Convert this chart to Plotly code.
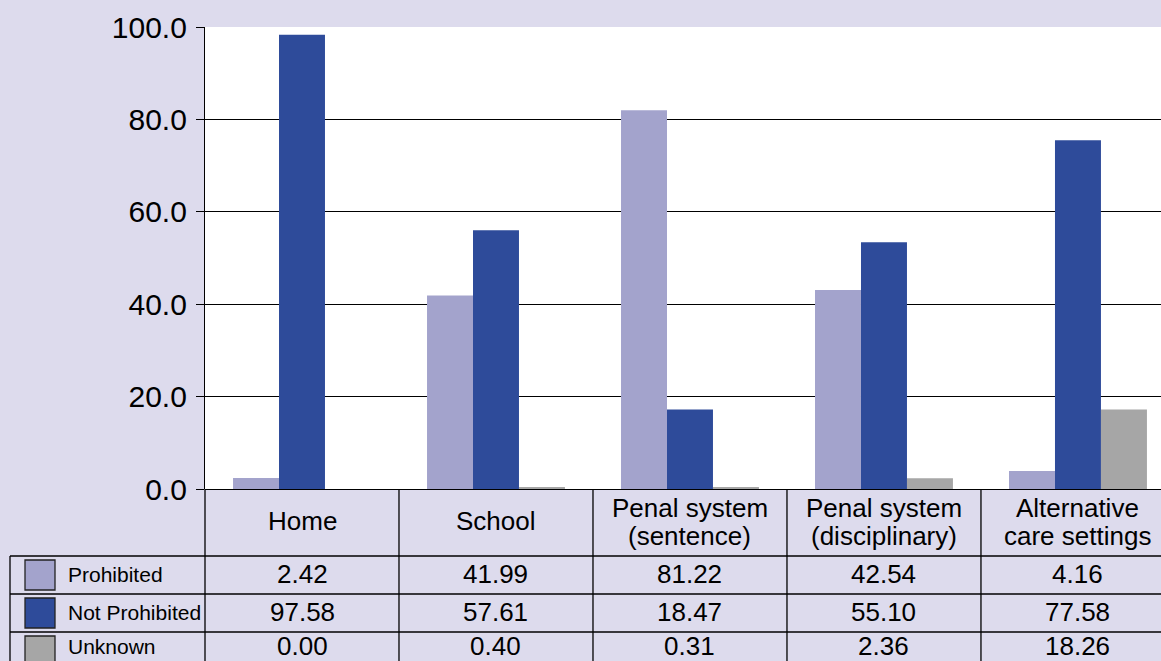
import plotly.graph_objects as go

# ---- data ----
categories = ["Home", "School", "Penal system<br>(sentence)",
              "Penal system<br>(disciplinary)", "Alternative<br>care settings"]
series_names = ["Prohibited", "Not Prohibited", "Unknown"]
# bar heights as drawn in the picture
prohibited_bars = [2.4, 41.9, 82.0, 43.1, 3.9]
not_prohibited_bars = [98.3, 56.0, 17.2, 53.4, 75.5]
unknown_bars = [0.0, 0.4, 0.3, 2.3, 17.2]
# values printed in the data table
prohibited_table = ["2.42", "41.99", "81.22", "42.54", "4.16"]
not_prohibited_table = ["97.58", "57.61", "18.47", "55.10", "77.58"]
unknown_table = ["0.00", "0.40", "0.31", "2.36", "18.26"]
y_ticks = [0, 20, 40, 60, 80, 100]

colors = ["#a3a3cc", "#2e4b9a", "#a6a6a6"]
BG = "#dddbed"
FONT = "Liberation Sans, Arial, sans-serif"

W, H = 1161, 661
ML, MR, MT, MB = 205, 0, 27, 172
PW = W - ML - MR
PH = H - MT - MB


def py(p):  # pixel y -> paper y
    return (H - MB - p) / PH


def px(p):  # pixel x -> paper x
    return (p - ML) / PW


xs = list(range(len(categories)))
fig = go.Figure()
for name, vals, col in zip(series_names,
                           [prohibited_bars, not_prohibited_bars, unknown_bars],
                           colors):
    fig.add_trace(go.Bar(x=xs, y=vals, name=name, marker_color=col,
                         marker_line_width=0, showlegend=False))

shapes = []
annotations = []
line = dict(color="black", width=1.3)

# left axis extension down through table
shapes.append(dict(type="line", xref="paper", yref="paper", x0=0, x1=0,
                   y0=0, y1=py(H + 20), line=line))
# column separators
for i in range(len(categories) - 1):
    shapes.append(dict(type="line", xref="x", yref="paper", x0=i + 0.5, x1=i + 0.5,
                       y0=0, y1=py(H + 20), line=line))
# legend column left border
shapes.append(dict(type="line", xref="paper", yref="paper", x0=px(10), x1=px(10),
                   y0=py(556), y1=py(H + 20), line=line))
# row separators
for yy in [556, 594, 632]:
    shapes.append(dict(type="line", xref="paper", yref="paper", x0=px(10), x1=1,
                       y0=py(yy), y1=py(yy), line=line))

# header row (category names)
for i, cat in enumerate(categories):
    lines = cat.split("<br>")
    if len(lines) == 1:
        centers = [521]
    else:
        centers = [508, 536]
    for ln, c in zip(lines, centers):
        annotations.append(dict(x=i, xref="x", y=py(c), yref="paper", text=ln,
                                showarrow=False, xanchor="center", yanchor="middle",
                                font=dict(size=26, color="black", family=FONT)))

# table values
row_centers = [574, 612, 646]
for rc, vals in zip(row_centers, [prohibited_table, not_prohibited_table, unknown_table]):
    for i, v in enumerate(vals):
        annotations.append(dict(x=i, xref="x", y=py(rc), yref="paper", text=v,
                                showarrow=False, xanchor="center", yanchor="middle",
                                font=dict(size=26, color="black", family=FONT)))

# legend swatches and labels
sw_tops = [560, 598, 636]
for top, name, col, rc in zip(sw_tops, series_names, colors, row_centers):
    shapes.append(dict(type="rect", xref="paper", yref="paper",
                       x0=px(25), x1=px(55), y0=py(top), y1=py(top + 30),
                       fillcolor=col, line=dict(color="#222222", width=1.3)))
    annotations.append(dict(x=px(66), xref="paper", y=py(rc), yref="paper", text=name,
                            showarrow=False, xanchor="left", yanchor="middle",
                            font=dict(size=21, color="black", family=FONT)))

fig.update_layout(
    width=W, height=H,
    margin=dict(l=ML, r=MR, t=MT, b=MB, pad=0),
    paper_bgcolor=BG, plot_bgcolor="white",
    barmode="group", bargap=0.289, bargroupgap=0,
    font=dict(family=FONT, color="black"),
    shapes=shapes, annotations=annotations,
    xaxis=dict(range=[-0.5, 4.428], showticklabels=False, showgrid=False,
               zeroline=False, showline=False, ticks=""),
    yaxis=dict(range=[0, 100], tickvals=y_ticks, tickformat=".1f",
               ticks="outside", ticklen=8, tickcolor="black", tickwidth=1.3,
               ticklabelstandoff=3,
               showline=True, linecolor="black", linewidth=1.3,
               showgrid=True, gridcolor="black", gridwidth=1.3,
               zeroline=True, zerolinecolor="black", zerolinewidth=1.3,
               tickfont=dict(size=30, color="black", family=FONT)),
)

fig.write_html("out.html", config={"displayModeBar": False},
               post_script="document.body.style.margin='0';document.body.style.overflow='hidden';")
